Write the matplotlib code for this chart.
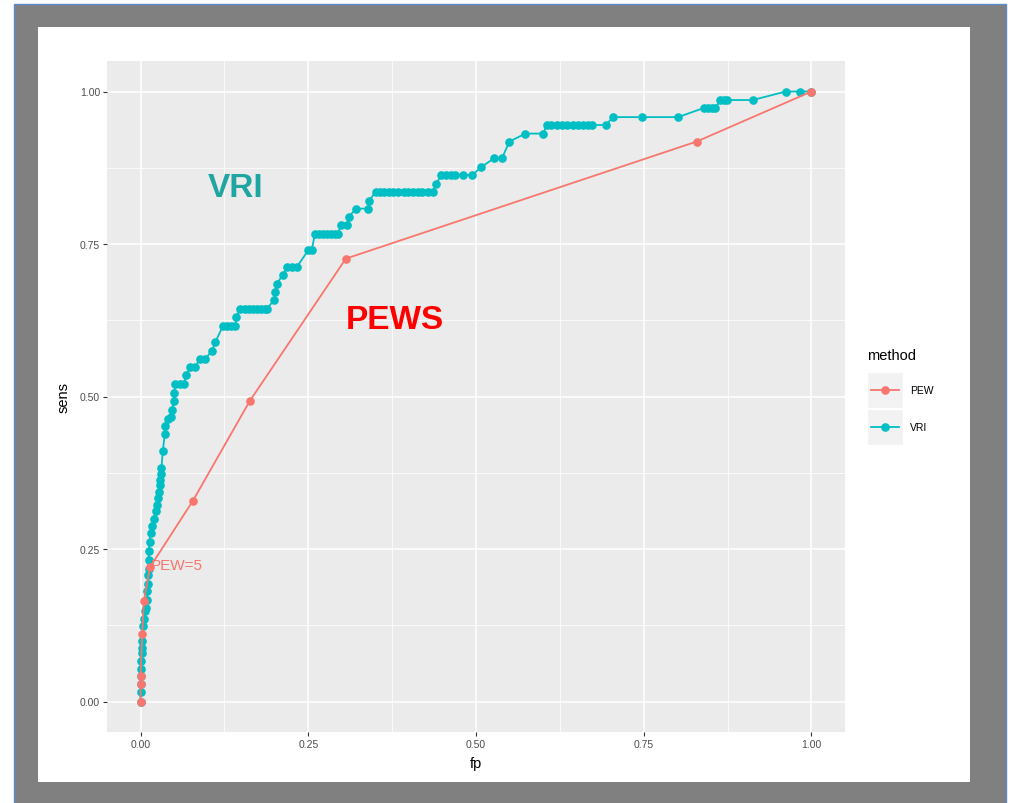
import matplotlib.pyplot as plt
from matplotlib.patches import Rectangle

plt.rcParams['font.family'] = ['Liberation Sans', 'DejaVu Sans']

# PEW curve (fp, sens)
pew_fp = [0.0, 0.0, 0.0, 0.0025, 0.005, 0.014, 0.078, 0.163, 0.306, 0.829, 1.0]
pew_sens = [0.0, 0.028, 0.042, 0.110, 0.165, 0.220, 0.329, 0.493, 0.726, 0.918, 1.0]

# VRI curve (fp, sens)
vri_fp = [0.0, 0.0, 0.0, 0.0, 0.0, 0.0, 0.0015, 0.0025, 0.0025, 0.0034, 0.0049,
          0.0064, 0.0074, 0.0100, 0.0100, 0.0108, 0.0114, 0.0119, 0.0119, 0.0123,
          0.0134, 0.0149, 0.0174, 0.0198, 0.0223, 0.0248, 0.0263, 0.0272, 0.0287,
          0.0297, 0.0312, 0.0312, 0.0331, 0.0361, 0.0371, 0.0412, 0.0461, 0.0471,
          0.0495, 0.0505, 0.052, 0.0594, 0.0643, 0.0684, 0.0743, 0.0817, 0.0881,
          0.0966, 0.1065, 0.1114, 0.1229, 0.129, 0.135, 0.1412, 0.1426, 0.1486,
          0.155, 0.161, 0.167, 0.173, 0.179, 0.185, 0.1883, 0.1991, 0.2006, 0.2031,
          0.2120, 0.2180, 0.225, 0.2328, 0.2501, 0.2551, 0.2600, 0.266, 0.272,
          0.278, 0.284, 0.290, 0.2946, 0.2982, 0.3076, 0.3110, 0.3210, 0.3392,
          0.3407, 0.3507, 0.357, 0.363, 0.370, 0.377, 0.384, 0.392, 0.399, 0.406,
          0.413, 0.420, 0.428, 0.4358, 0.4409, 0.4483, 0.455, 0.462, 0.469, 0.4804,
          0.4944, 0.5077, 0.5275, 0.5389, 0.5498, 0.5736, 0.6003, 0.6052, 0.612,
          0.620, 0.628, 0.636, 0.644, 0.652, 0.660, 0.667, 0.6736, 0.6935, 0.7043,
          0.7470, 0.8013, 0.8395, 0.846, 0.852, 0.8569, 0.8643, 0.869, 0.8742,
          0.9123, 0.9618, 0.9832, 1.0]
vri_sens = [0.0, 0.016, 0.028, 0.041, 0.054, 0.067, 0.079, 0.087, 0.099, 0.123, 0.136,
            0.148, 0.153, 0.167, 0.181, 0.192, 0.207, 0.218, 0.232, 0.246,
            0.261, 0.276, 0.287, 0.300, 0.312, 0.322, 0.333, 0.343, 0.355,
            0.363, 0.373, 0.383, 0.410, 0.438, 0.451, 0.463, 0.466, 0.478,
            0.493, 0.506, 0.521, 0.521, 0.521, 0.536, 0.548, 0.548, 0.562,
            0.562, 0.575, 0.589, 0.616, 0.616, 0.616, 0.616, 0.630, 0.644,
            0.644, 0.644, 0.644, 0.644, 0.644, 0.644, 0.644, 0.658, 0.671, 0.685,
            0.699, 0.712, 0.712, 0.712, 0.740, 0.740, 0.767, 0.767, 0.767,
            0.767, 0.767, 0.767, 0.767, 0.781, 0.781, 0.795, 0.808, 0.808,
            0.821, 0.836, 0.836, 0.836, 0.836, 0.836, 0.836, 0.836, 0.836, 0.836,
            0.836, 0.836, 0.836, 0.836, 0.849, 0.863, 0.863, 0.863, 0.863, 0.863,
            0.863, 0.876, 0.891, 0.891, 0.918, 0.931, 0.931, 0.945, 0.945,
            0.945, 0.945, 0.945, 0.945, 0.945, 0.945, 0.945, 0.945, 0.945, 0.958,
            0.958, 0.958, 0.973, 0.973, 0.973, 0.973, 0.986, 0.986, 0.986,
            0.986, 1.0, 1.0, 1.0]

ticks = [0.0, 0.25, 0.5, 0.75, 1.0]
tick_labels = ['0.00', '0.25', '0.50', '0.75', '1.00']
methods = ['PEW', 'VRI']
colors = {'PEW': '#F8766D', 'VRI': '#00BFC4'}

W, H = 1013, 804
fig = plt.figure(figsize=(W / 100, H / 100), dpi=100)
fig.patch.set_facecolor('white')

# background frame + legend drawn in pixel coordinates
bg = fig.add_axes([0, 0, 1, 1], zorder=0)
bg.set_xlim(0, W)
bg.set_ylim(H, 0)
bg.axis('off')
bg.add_patch(Rectangle((14, 5), 992, 800, facecolor='#808080', edgecolor='#5B8BC9', lw=1))
bg.add_patch(Rectangle((38, 28), 932, 755, facecolor='white', edgecolor='none'))

# main panel
ax = fig.add_axes([107 / W, 1 - 733 / H, (845 - 107) / W, (733 - 62) / H], zorder=1)
ax.set_facecolor('#EBEBEB')
for s in ax.spines.values():
    s.set_visible(False)
ax.set_xlim(-0.05, 1.05)
ax.set_ylim(-0.05, 1.05)
ax.set_xticks(ticks)
ax.set_yticks(ticks)
ax.set_xticklabels(tick_labels)
ax.set_yticklabels(tick_labels)
ax.set_xticks([0.125, 0.375, 0.625, 0.875], minor=True)
ax.set_yticks([0.125, 0.375, 0.625, 0.875], minor=True)
ax.grid(which='major', color='white', lw=1.1)
ax.grid(which='minor', color='white', lw=0.55)
ax.set_axisbelow(True)
ax.tick_params(which='major', length=3, width=0.8, color='#333333',
               labelsize=7.5, labelcolor='#4D4D4D', pad=2)
ax.tick_params(which='minor', length=0)
ax.set_xlabel('fp', fontsize=10.5, labelpad=5)
ax.set_ylabel('sens', fontsize=10.5, labelpad=7)

ax.plot(vri_fp, vri_sens, '-o', color=colors['VRI'], lw=1.3, ms=5.2, zorder=3)
ax.plot(pew_fp, pew_sens, '-o', color=colors['PEW'], lw=1.3, ms=5.2, zorder=4)

ax.text(0.0155, 0.218, 'PEW=5', color='#F8766D', fontsize=11, ha='left', va='baseline', zorder=5)
ax.text(0.141, 0.842, 'VRI', color='#1FA6A2', fontsize=24, fontweight='bold',
        ha='center', va='center', zorder=5)
ax.text(0.379, 0.626, 'PEWS', color='#FF0000', fontsize=24, fontweight='bold',
        ha='center', va='center', zorder=5)

# legend
bg.text(867, 356, 'method', fontsize=10.5, ha='left', va='center')
for i, m in enumerate(methods):
    y0 = 373 + i * 37
    bg.add_patch(Rectangle((867, y0), 36, 36, facecolor='#F2F2F2', edgecolor='white', lw=1))
    cy = y0 + 18
    bg.plot([871, 899], [cy, cy], color=colors[m], lw=1.3)
    bg.plot([885], [cy], 'o', color=colors[m], ms=5.2)
    bg.text(910, cy, m, fontsize=7.5, ha='left', va='center')

fig.savefig('out.png', dpi=100)
